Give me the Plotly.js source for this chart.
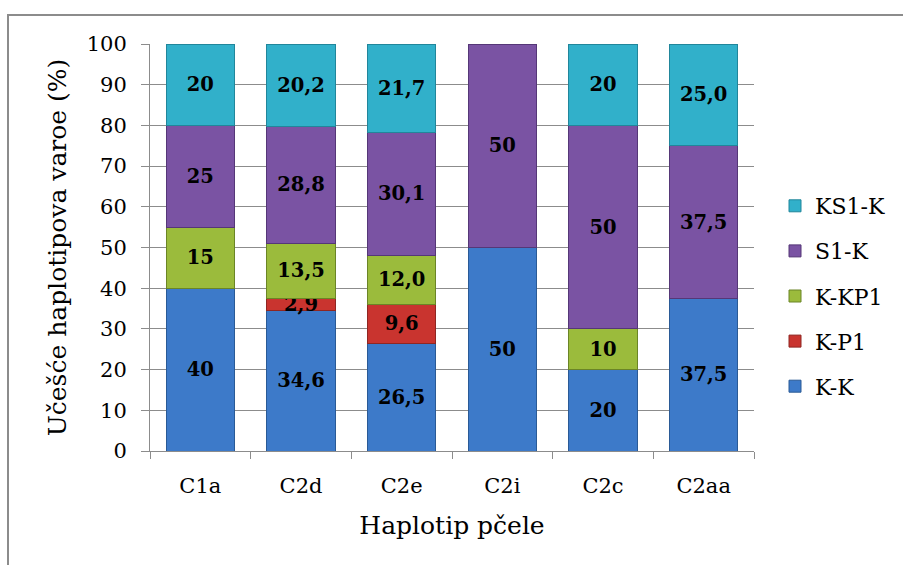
<!DOCTYPE html>
<html>
<head>
<meta charset="utf-8">
<script src="https://cdn.plot.ly/plotly-3.0.1.min.js"></script>
<style>
  html, body { margin: 0; padding: 0; background: #fff; }
  #chart { width: 903px; height: 565px; }
</style>
</head>
<body>
<div id="chart"></div>
<script>
const categories = ["C1a", "C2d", "C2e", "C2i", "C2c", "C2aa"];
const seriesNames = ["K-K", "K-P1", "K-KP1", "S1-K", "KS1-K"];
const kk    = [40, 34.6, 26.5, 50, 20, 37.5];
const kp1   = [0, 2.9, 9.6, 0, 0, 0];
const kkp1  = [15, 13.5, 12.0, 0, 10, 0];
const s1k   = [25, 28.8, 30.1, 50, 50, 37.5];
const ks1k  = [20, 20.2, 21.7, 0, 20, 25.0];
const labelsKK   = ["40", "34,6", "26,5", "50", "20", "37,5"];
const labelsKP1  = ["", "2,9", "9,6", "", "", ""];
const labelsKKP1 = ["15", "13,5", "12,0", "", "10", ""];
const labelsS1K  = ["25", "28,8", "30,1", "50", "50", "37,5"];
const labelsKS1K = ["20", "20,2", "21,7", "", "20", "25,0"];
const yTicks = [0, 10, 20, 30, 40, 50, 60, 70, 80, 90, 100];

const values = [kk, kp1, kkp1, s1k, ks1k];
const labels = [labelsKK, labelsKP1, labelsKKP1, labelsS1K, labelsKS1K];
const colors = ["#3d7ac9", "#c9342f", "#9bbb3c", "#7a53a3", "#31b0ca"];
const edges  = ["#2a5a96", "#8f2622", "#6b8526", "#553777", "#21869b"];
const serif = "DejaVu Serif";

const traces = seriesNames.map((name, i) => ({
  type: "bar",
  name: name,
  x: categories,
  y: values[i].map(v => (v === 0 ? null : v)),
  text: labels[i],
  textposition: "inside",
  insidetextanchor: "middle",
  constraintext: "none",
  textangle: 0,
  textfont: { family: serif, size: 19.5, color: "#000", weight: "bold" },
  marker: { color: colors[i], line: { color: edges[i], width: 1 } },
  legendgroup: name,
  legendrank: seriesNames.length - i,
  hoverinfo: "x+y+name"
}));

const l = 150, r = 149, t = 44, b = 114;
const pw = 903 - l - r, ph = 565 - t - b;
const px = x => (x - l) / pw;
const py = y => (565 - b - y) / ph;

const layout = {
  width: 903, height: 565,
  margin: { l: l, r: r, t: t, b: b, pad: 0 },
  barmode: "stack",
  bargap: 0.32,
  paper_bgcolor: "#fff",
  plot_bgcolor: "#fff",
  font: { family: serif, size: 20, color: "#000" },
  showlegend: true,
  legend: {
    x: px(775), xanchor: "left",
    y: py(185), yanchor: "top",
    traceorder: "grouped",
    tracegroupgap: 13.5,
    font: { family: serif, size: 22, color: "#000" },
    bgcolor: "rgba(0,0,0,0)",
    itemwidth: 30
  },
  xaxis: {
    type: "category",
    showline: true, linecolor: "#8c8c8c", linewidth: 1,
    ticks: "outside", tickson: "boundaries", ticklen: 7, tickcolor: "#8c8c8c",
    showgrid: false,
    tickfont: { family: serif, size: 21, color: "#000" },
    ticklabelstandoff: 16,
    title: { text: "Haplotip pčele", font: { family: serif, size: 25, color: "#000" }, standoff: 19 },
    automargin: false
  },
  yaxis: {
    range: [0, 100],
    tickvals: yTicks,
    showline: true, linecolor: "#8c8c8c", linewidth: 1,
    ticks: "outside", ticklen: 8, tickcolor: "#8c8c8c",
    showgrid: true, gridcolor: "#8c8c8c", gridwidth: 1,
    zeroline: false,
    tickfont: { family: serif, size: 21, color: "#000" },
    ticklabelstandoff: 10,
    title: { text: "Učešće haplotipova varoe (%)", font: { family: serif, size: 25, color: "#000" }, standoff: 12 },
    automargin: false
  },
  shapes: [{
    type: "rect", xref: "paper", yref: "paper",
    x0: px(8), x1: px(920), y0: py(580), y1: py(15),
    line: { color: "#8c8c8c", width: 2 },
    fillcolor: "rgba(0,0,0,0)",
    layer: "below"
  }]
};

Plotly.newPlot("chart", traces, layout, { displayModeBar: false, staticPlot: true });
</script>
</body>
</html>
